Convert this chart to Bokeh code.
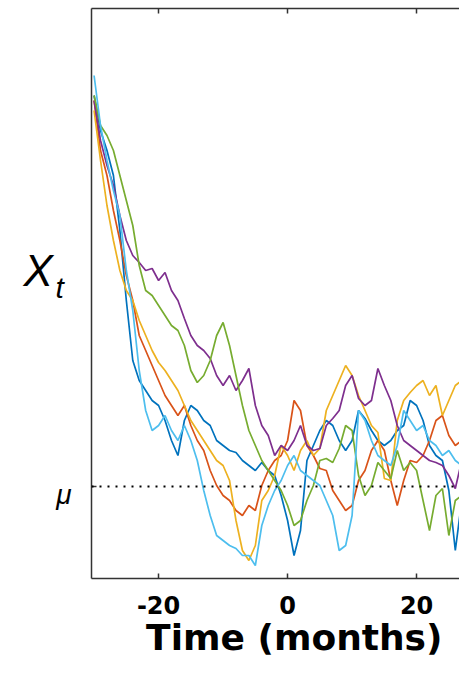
from bokeh.plotting import figure
from bokeh.models import LinearAxis, FixedTicker, Span, Range1d
from bokeh.layouts import row
from bokeh.core.properties import value
from bokeh.embed import file_html
from bokeh.resources import INLINE

# time axis (months)
months = list(range(-30, 29))
x_ticks = [-20, 0, 20]
x_tick_labels = {-20: "-20", 0: "0", 20: "20"}
mu = 0.0

# six sample paths (arbitrary units, mu = 0)
blue = [3.91, 3.56, 3.36, 3.11, 2.56, 1.86, 1.26, 1.06, 0.96, 0.86,
        0.81, 0.66, 0.46, 0.31, 0.66, 0.81, 0.76, 0.66, 0.61, 0.46,
        0.41, 0.36, 0.34, 0.26, 0.21, 0.16, 0.24, 0.16, 0.11, -0.09,
        -0.34, -0.69, -0.44, 0.26, 0.41, 0.56, 0.66, 0.61, 0.46, 0.36,
        0.46, 0.76, 0.68, 0.56, 0.46, 0.41, 0.46, 0.56, 0.61, 0.86,
        0.81, 0.66, 0.41, 0.31, 0.26, -0.04, -0.64, -0.14, -0.09]
red = [3.86, 3.36, 3.11, 2.76, 2.46, 2.11, 1.86, 1.51, 1.36, 1.21,
       1.06, 0.91, 0.81, 0.71, 0.81, 0.61, 0.46, 0.36, 0.16, 0.01,
       -0.09, -0.14, -0.24, -0.29, -0.19, -0.24, 0.01, 0.16, 0.26, 0.31,
       0.46, 0.86, 0.76, 0.41, 0.31, 0.18, 0.16, -0.04, -0.14, -0.24,
       -0.19, 0.06, 0.16, 0.36, 0.46, 0.36, 0.06, -0.19, 0.06, 0.26,
       0.24, 0.31, 0.46, 0.66, 0.71, 0.51, 0.41, 0.46, 0.36]
orange = [3.76, 3.26, 2.81, 2.46, 2.16, 1.96, 1.86, 1.66, 1.51, 1.36,
          1.24, 1.16, 1.06, 0.96, 0.81, 0.66, 0.56, 0.46, 0.36, 0.26,
          0.21, 0.06, -0.34, -0.64, -0.74, -0.59, -0.14, -0.04, 0.11, 0.41,
          0.31, 0.16, 0.36, 0.46, 0.31, 0.38, 0.76, 0.91, 1.06, 1.21,
          1.11, 0.91, 0.76, 0.61, 0.54, 0.08, 0.06, 0.66, 0.86, 0.94,
          1.01, 1.06, 0.91, 1.01, 0.71, 0.86, 1.01, 1.06, 1.16]
purple = [3.86, 3.46, 3.21, 3.01, 2.71, 2.46, 2.31, 2.24, 2.16, 2.18,
          2.06, 2.14, 1.96, 1.86, 1.68, 1.51, 1.41, 1.36, 1.28, 1.11,
          1.01, 1.11, 0.96, 1.06, 1.18, 0.81, 0.61, 0.51, 0.31, 0.41,
          0.36, 0.46, 0.61, 0.41, 0.36, 0.38, 0.61, 0.68, 0.76, 1.01,
          1.11, 0.88, 0.81, 0.86, 1.18, 1.01, 0.86, 0.61, 0.46, 0.41,
          0.36, 0.31, 0.26, 0.24, 0.21, 0.11, -0.02, 0.26, 0.41]
green = [3.91, 3.61, 3.51, 3.36, 3.11, 2.86, 2.61, 2.21, 1.96, 1.91,
         1.81, 1.71, 1.61, 1.56, 1.41, 1.16, 1.04, 1.11, 1.26, 1.51,
         1.64, 1.41, 1.11, 0.81, 0.56, 0.41, 0.26, 0.16, 0.06, -0.04,
         -0.19, -0.39, -0.34, -0.14, 0.01, 0.26, 0.28, 0.24, 0.38, 0.61,
         0.56, 0.11, -0.09, 0.01, 0.24, 0.16, 0.08, 0.36, 0.16, 0.24,
         0.16, -0.14, -0.44, -0.09, -0.02, -0.49, -0.14, -0.09, -0.04]
lightblue = [4.11, 3.61, 3.26, 2.96, 2.71, 2.16, 1.76, 1.16, 0.76, 0.56,
             0.61, 0.71, 0.56, 0.46, 0.61, 0.46, 0.26, -0.04, -0.29, -0.49,
             -0.54, -0.59, -0.62, -0.69, -0.69, -0.79, -0.39, -0.19, -0.04, 0.06,
             0.21, 0.31, 0.16, 0.11, 0.06, 0.01, -0.14, -0.29, -0.64, -0.59,
             -0.29, 0.76, 0.66, 0.46, 0.31, 0.26, 0.21, 0.41, 0.76, 0.66,
             0.56, 0.61, 0.46, 0.41, 0.31, 0.36, 0.26, 0.21, 0.31]

series = [blue, red, orange, purple, green, lightblue]
colors = ["#0072BD", "#D95319", "#EDB120", "#7E2F8E", "#77AC30", "#4DBEEE"]

y_range = Range1d(-0.92, 4.78)
LEFT_W = 87
TOP, BOTTOM = 8, 97

# narrow panel on the left holding the y-axis texts (X_t and mu)
lp = figure(width=LEFT_W, height=675, output_backend="svg", toolbar_location=None,
            x_range=Range1d(0, LEFT_W), y_range=y_range,
            x_axis_location=None, y_axis_location=None,
            min_border_left=0, min_border_right=0, min_border_top=TOP,
            min_border_bottom=BOTTOM)
lp.outline_line_color = None
for g in lp.grid:
    g.visible = False
lp.text(x=[23], y=[2.16], text=["X"], text_font=value("Liberation Sans"),
        text_font_style="italic", text_font_size="44px", text_color="black",
        text_baseline="alphabetic", text_align="left")
lp.text(x=[55], y=[1.99], text=["t"], text_font=value("Liberation Sans"),
        text_font_style="italic", text_font_size="30px", text_color="black",
        text_baseline="alphabetic", text_align="left")
lp.text(x=[71], y=[mu - 0.08], text=["μ"], text_font=value("Liberation Sans"),
        text_font_style="italic", text_font_size="28px", text_color="black",
        text_baseline="alphabetic", text_align="right")

p = figure(width=459 - LEFT_W, height=675, output_backend="svg", toolbar_location=None,
           x_range=Range1d(-30.4, 26.65), y_range=y_range,
           x_axis_location=None, y_axis_location=None,
           min_border_left=4, min_border_right=0, min_border_top=TOP,
           min_border_bottom=BOTTOM)
p.outline_line_color = None
for g in p.grid:
    g.visible = False

for ys, c in zip(series, colors):
    p.line(months, ys, line_color=c, line_width=1.7)

p.add_layout(Span(location=mu, dimension="width", line_color="black",
                  line_dash="2 6", line_width=2))


def style_axis(ax):
    ax.axis_line_color = "#333333"
    ax.axis_line_width = 1.5
    ax.major_tick_line_color = "#333333"
    ax.major_tick_line_width = 1.5
    ax.major_tick_in = 5
    ax.major_tick_out = 0
    ax.minor_tick_line_color = None


def hide_labels(ax):
    ax.major_label_text_color = None
    ax.major_label_text_font_size = "1px"
    ax.major_label_standoff = 0


below = LinearAxis(ticker=FixedTicker(ticks=x_ticks),
                   axis_label="\u00a0\u00a0\u00a0Time (months)")
style_axis(below)
below.major_label_overrides = x_tick_labels
below.major_label_text_font = "DejaVu Sans"
below.major_label_text_font_style = "bold"
below.major_label_text_font_size = "24px"
below.major_label_text_color = "black"
below.major_label_standoff = 17
below.axis_label_text_font = "DejaVu Sans"
below.axis_label_text_font_style = "bold"
below.axis_label_text_font_size = "36px"
below.axis_label_text_color = "black"
below.axis_label_standoff = 0
p.add_layout(below, "below")

above = LinearAxis(ticker=FixedTicker(ticks=x_ticks))
style_axis(above)
hide_labels(above)
p.add_layout(above, "above")

left = LinearAxis(ticker=FixedTicker(ticks=[mu]))
style_axis(left)
hide_labels(left)
p.add_layout(left, "left")

layout = row(lp, p, spacing=0)
open("out.html", "w").write(file_html(layout, INLINE))
